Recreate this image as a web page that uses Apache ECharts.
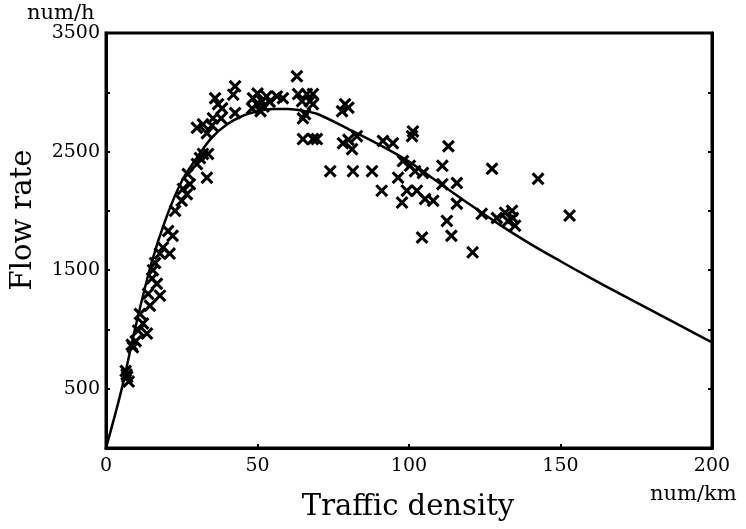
<!DOCTYPE html>
<html>
<head>
<meta charset="utf-8">
<script src="https://cdn.jsdelivr.net/npm/echarts@6/dist/echarts.min.js"></script>
<style>
html,body{margin:0;padding:0;background:#fff;}
#chart{width:746px;height:529px;}
</style>
</head>
<body>
<div id="chart"></div>
<script>
// Observed (density num/km, flow num/h)
const observedDensity = [6.5,7,7.5,6.8,8.9,9.8,8.5,10.6,12.2,13.5,11.2,14.5,17.8,13.9,16.8,15.2,15.5,16.2,17.8,21,
  18.8,22,20.5,22.8,25,26.7,25.4,27.7,27,33.3,30,31,33.7,32,
  30,32,33.3,35.3,36,38.3,37,35,38,42.6,42,42.6,
  48.5,49.8,51.5,48.2,51,53,56.4,58.4,50,52,54,
  63,63.4,66.3,68.3,64.7,67.3,65,68.3,65,68.3,69.6,65.7,
  78.9,77.9,80,78.2,82.8,81.2,80,74,81.5,87.8,91,
  91.4,94.7,101,101.3,98,100.3,102,104.6,96.4,99.3,102.6,97.7,105.3,108,113,111,111,115.8,115.8,112.5,114,104.3,121,124,127.4,129,131.7,134,134.3,132.7,135,142.6,153];
const observedFlow = [650,600,560,620,850,900,870,990,1050,965,1130,1200,1285,1300,1385,1430,1500,1560,1640,1640,
  1690,1790,1830,2000,2085,2140,2185,2225,2310,2280,2395,2445,2480,2480,
  2700,2730,2655,2780,2950,2865,2900,2720,2780,3050,2980,2825,
  2950,2900,2925,2865,2840,2965,2965,2950,2990,2880,2920,
  3135,2985,2985,2985,2925,2925,2780,2900,2605,2605,2605,2815,
  2900,2840,2870,2570,2630,2520,2600,2335,2335,2335,2170,
  2590,2570,2630,2670,2420,2380,2335,2320,2280,2170,2170,2070,2100,2085,2545,2380,2225,2235,2060,1915,1790,1775,1650,1975,2355,1940,1985,2000,1940,1915,1875,2270,1960];

// Fitted curve
const curveDensity = [0,5,10,15,20,25,30,35,40,45,50,55,60,65,70,80,90,100,110,120,130,140,150,160,170,180,190,200];
const curveFlow = [0,480,1050,1560,1950,2250,2450,2620,2730,2800,2840,2858,2860,2845,2815,2690,2560,2415,2235,2055,1882,1722,1575,1432,1295,1160,1025,890];

const xTicks = [0,50,100,150,200];
const yLabelTicks = [500,1500,2500,3500];

const scatterData = observedDensity.map((k,i)=>[k, observedFlow[i]]);
const curveData = curveDensity.map((k,i)=>[k, curveFlow[i]]);

const FONT = 'DejaVu Serif';
const crossPath = 'path://M2,0 L6,4 L10,0 L12,2 L8,6 L12,10 L10,12 L6,8 L2,12 L0,10 L4,6 L0,2 Z';

const chart = echarts.init(document.getElementById('chart'), null, {renderer:'canvas'});
chart.setOption({
  backgroundColor:'#fff',
  animation:false,
  grid:{left:106,right:34,top:33,bottom:81,show:true,borderColor:'#000',borderWidth:3,backgroundColor:'transparent'},
  xAxis:{
    type:'value',min:0,max:200,interval:50,
    axisLine:{show:true,lineStyle:{color:'#000',width:3}},
    axisTick:{show:true,inside:true,length:4,lineStyle:{color:'#000',width:2}},
    splitLine:{show:false},
    axisLabel:{color:'#000',fontFamily:FONT,fontSize:19,margin:9,
      formatter:v=>xTicks.indexOf(v)>=0?String(v):''}
  },
  yAxis:[{
    type:'value',min:0,max:3500,interval:500,
    axisLine:{show:true,lineStyle:{color:'#000',width:3}},
    axisTick:{show:true,inside:true,length:4,lineStyle:{color:'#000',width:2}},
    splitLine:{show:false},
    axisLabel:{color:'#000',fontFamily:FONT,fontSize:19,margin:6,
      formatter:v=>yLabelTicks.indexOf(v)>=0?String(v):''}
  },{
    type:'value',min:0,max:3500,interval:500,position:'right',
    axisLine:{show:true,lineStyle:{color:'#000',width:3}},
    axisTick:{show:true,inside:true,length:4,lineStyle:{color:'#000',width:2}},
    splitLine:{show:false},axisLabel:{show:false}
  }],
  series:[{
    type:'line',data:curveData,smooth:0.3,showSymbol:false,symbol:'none',
    lineStyle:{color:'#000',width:2.5},z:2
  },{
    type:'scatter',data:scatterData,symbol:crossPath,symbolSize:13,
    itemStyle:{color:'#000',opacity:1},z:3
  }],
  graphic:[
    {type:'text',left:27,top:3,style:{text:'num/h',font:'21px "DejaVu Serif"',fill:'#000'}},
    {type:'text',left:650,top:484,style:{text:'num/km',font:'21px "DejaVu Serif"',fill:'#000'}},
    {type:'text',x:408,y:507,style:{text:'Traffic density',font:'29px "DejaVu Serif"',fill:'#000',align:'center',verticalAlign:'middle'}},
    {type:'text',x:23,y:220,rotation:Math.PI/2,style:{text:'Flow rate',font:'29px "DejaVu Serif"',fill:'#000',align:'center',verticalAlign:'middle'}}
  ]
});
</script>
</body>
</html>
